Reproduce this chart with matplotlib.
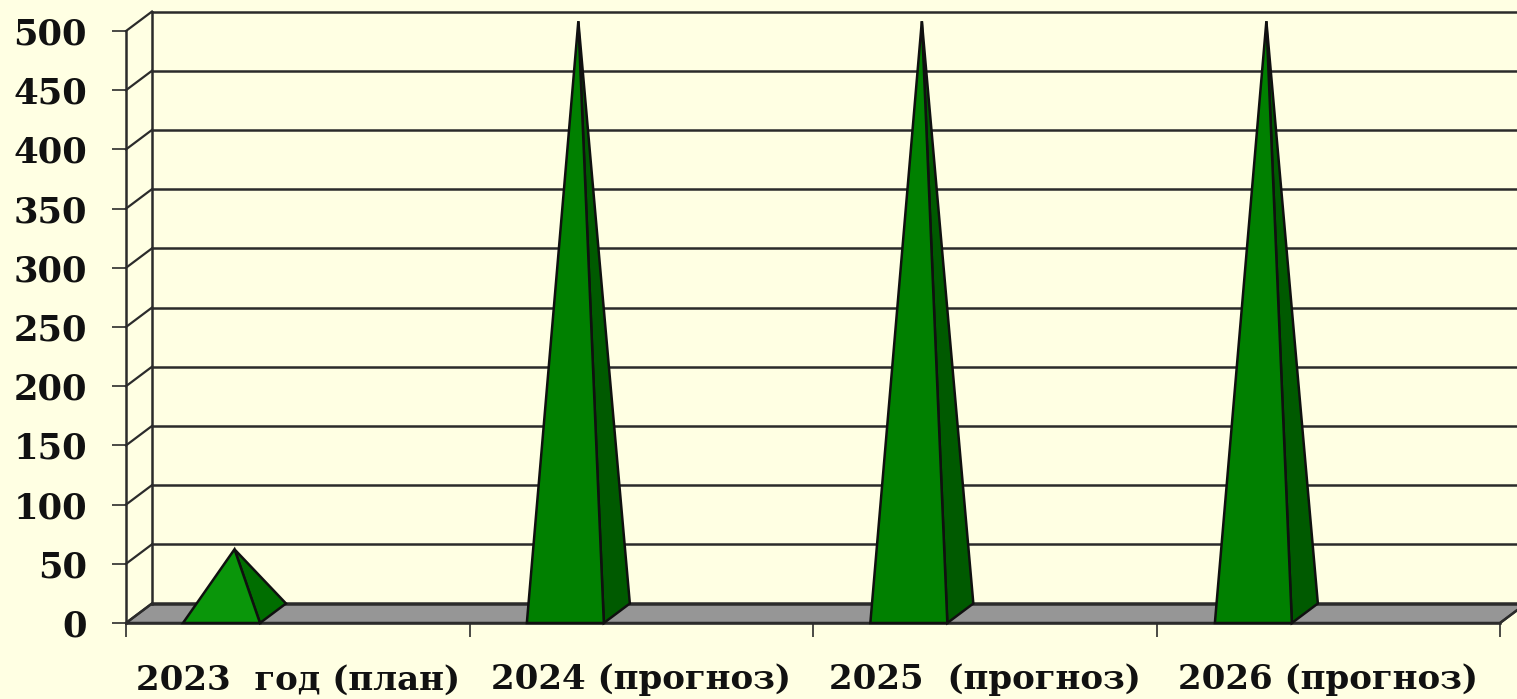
from matplotlib import pyplot as plt
from matplotlib.patches import Polygon

# categories and values
years = ['2023  год (план)', '2024 (прогноз)', '2025  (прогноз)', '2026 (прогноз)']
values = [54, 500, 500, 500]
# where each pyramid stands inside its category (bars are off centre in the original)
positions = [0.278, 1.279, 2.279, 3.282]
yticks = [0, 50, 100, 150, 200, 250, 300, 350, 400, 450, 500]

bg = '#FFFFE3'
line = '#2b2b2b'
floor_col = '#969696'
front_cols = ['#0A960A', '#008000', '#008000', '#008000']
side_cols = ['#006E00', '#005A00', '#005A00', '#005A00']

W, H = 1517, 699
fig = plt.figure(figsize=(W / 100, H / 100), dpi=100, facecolor=bg)
ax = fig.add_axes([126 / W, (H - 623) / H, 1374 / W, 592 / H], facecolor='none')
ax.set_xlim(0, 4)
ax.set_ylim(0, 500)

# 3d depth in data units
dx = 26 / 1374 * 4
dy = 19.5 / 592 * 500
bar_w = 77 / 1374 * 4

# floor
ax.add_patch(Polygon([(0, 0), (4, 0), (4 + dx, dy), (dx, dy)], closed=True, facecolor=floor_col,
                     edgecolor=line, lw=1.8, clip_on=False, zorder=1))

# back wall and side wall lines
ax.plot([dx, dx], [dy, 500 + dy], color=line, lw=1.8, clip_on=False, zorder=2)
for t in yticks:
    ax.plot([0, dx], [t, t + dy], color=line, lw=1.6, clip_on=False, zorder=2)
    ax.plot([dx, 4 + dx], [t + dy, t + dy], color=line, lw=1.8, clip_on=False, zorder=2)
ax.plot([4, 4 + dx], [0, dy], color=line, lw=1.6, clip_on=False, zorder=2)

# pyramids
for i in range(len(values)):
    c = positions[i]
    v = values[i]
    apex = (c + dx / 2, v + dy / 2)
    ax.add_patch(Polygon([(c + bar_w / 2, 0), (c + bar_w / 2 + dx, dy), apex], closed=True,
                         facecolor=side_cols[i], edgecolor='#101010', lw=1.8, clip_on=False, zorder=3))
    ax.add_patch(Polygon([(c - bar_w / 2, 0), (c + bar_w / 2, 0), apex], closed=True,
                         facecolor=front_cols[i], edgecolor='#101010', lw=1.8, clip_on=False, zorder=4))

for side in ['top', 'right']:
    ax.spines[side].set_visible(False)
for side in ['left', 'bottom']:
    ax.spines[side].set_color(line)
    ax.spines[side].set_linewidth(1.8)
    ax.spines[side].set_zorder(2)

font = dict(family='DejaVu Serif', fontweight='bold', color='#111111')

ax.set_yticks(yticks)
ax.set_yticklabels([str(t) for t in yticks], fontsize=25.5, **font)
ax.tick_params(axis='y', length=10, width=1.2, color=line, pad=18)

# ticks on the category edges, labels in the middle
ax.set_xticks([0, 1, 2, 3, 4])
ax.set_xticklabels([])
ax.tick_params(axis='x', which='major', length=10, width=1.2, color=line)
ax.set_xticks([0.5, 1.5, 2.5, 3.5], minor=True)
ax.set_xticklabels(years, minor=True, fontsize=24.5, **font)
ax.tick_params(axis='x', which='minor', length=0, pad=29)

fig.savefig('out.png', dpi=100, facecolor=bg)
